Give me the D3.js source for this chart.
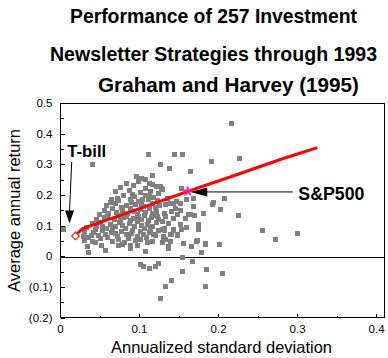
<!DOCTYPE html>
<html><head><meta charset="utf-8">
<script src="https://cdn.jsdelivr.net/npm/d3@7"></script>
<style>html,body{margin:0;padding:0;background:#fff;} svg{display:block;}</style>
</head><body><svg id="chart" width="388" height="358"></svg>
<script>
// ---------- data ----------
const titleLines = ["Performance of 257 Investment", "Newsletter Strategies through 1993", "Graham and Harvey (1995)"];
const xAxisTitle = "Annualized standard deviation";
const yAxisTitle = "Average annual return";
const xTickValues = [0, 0.1, 0.2, 0.3, 0.4];
const xTickLabels = ["0", "0.1", "0.2", "0.3", "0.4"];
const xMinorTicks = [0.05, 0.15, 0.25, 0.35];
const yTickValues = [0.5, 0.4, 0.3, 0.2, 0.1, 0, -0.1, -0.2];
const yTickLabels = ["0.5", "0.4", "0.3", "0.2", "0.1", "0", "(0.1)", "(0.2)"];
const yMinorTicks = [0.45, 0.35, 0.25, 0.15, 0.05, -0.05, -0.15];

// [annualized std dev, average annual return] for newsletter strategies
const newsletterPoints = [
 [0.004,0.088],[0.041,0.301],[0.111,0.332],[0.096,0.262],[0.103,0.256],[0.107,0.253],[0.117,0.265],[0.113,0.240],
 [0.126,0.300],[0.126,0.229],[0.217,0.435],[0.144,0.332],[0.155,0.332],[0.138,0.289],[0.191,0.312],[0.227,0.319],
 [0.164,0.279],[0.128,0.222],[0.153,0.221],[0.207,0.189],[0.194,0.178],[0.202,0.153],[0.225,0.135],[0.181,0.142],
 [0.192,0.169],[0.256,0.087],[0.300,0.076],[0.272,0.055],
 [0.131,0.086],[0.143,0.086],[0.153,0.088],[0.175,0.088],[0.130,0.061],[0.141,0.072],[0.148,0.072],[0.129,0.045],
 [0.137,0.028],[0.156,0.042],[0.166,0.034],[0.172,0.050],[0.183,0.042],[0.201,0.039],[0.179,0.013],
 [0.155,-0.004],[0.167,-0.017],[0.154,-0.047],[0.185,-0.043],[0.205,-0.056],[0.140,-0.076],[0.133,-0.098],[0.183,-0.097],[0.126,-0.135],
 [0.034,0.034],[0.035,0.014],[0.057,0.020],[0.074,0.037],[0.088,0.028],[0.097,0.037],[0.107,0.017],
 [0.101,-0.026],[0.105,-0.032],[0.113,-0.040],[0.120,-0.032],[0.124,-0.021],
 [0.029,0.066],[0.040,0.050],
 [0.129,0.218],[0.135,0.191],[0.143,0.175],[0.152,0.175],[0.160,0.186],[0.168,0.191],[0.133,0.169],[0.168,0.164],
 [0.131,0.142],[0.141,0.146],[0.148,0.139],[0.133,0.131],[0.143,0.126],[0.158,0.126],[0.162,0.139],[0.170,0.134],
 [0.129,0.115],[0.137,0.107],[0.152,0.104],[0.160,0.095],[0.174,0.104],[0.175,0.093],[0.129,0.088],[0.132,0.093],
 [0.143,0.088],[0.139,0.074],[0.148,0.069],[0.130,0.066],[0.133,0.055],[0.139,0.050],[0.173,0.052],[0.184,0.041],
 [0.137,0.034],[0.164,0.137],[0.174,0.099],[0.139,0.175],[0.147,0.179],[0.152,0.150],[0.146,0.158],
 [0.084,0.238],[0.099,0.244],[0.117,0.236],
 [0.076,0.226],[0.093,0.231],[0.108,0.223],[0.121,0.228],
 [0.069,0.212],[0.087,0.215],[0.101,0.208],[0.114,0.213],[0.124,0.206],
 [0.080,0.199],[0.094,0.196],[0.107,0.201],[0.118,0.194],
 [0.064,0.187],[0.074,0.182],[0.088,0.186],[0.099,0.179],[0.111,0.188],[0.123,0.183],
 [0.058,0.168],[0.070,0.173],[0.083,0.166],[0.095,0.171],[0.105,0.164],[0.116,0.175],[0.125,0.168],
 [0.056,0.152],[0.066,0.158],[0.078,0.150],[0.089,0.156],[0.101,0.153],[0.112,0.158],[0.121,0.149],
 [0.049,0.137],[0.061,0.142],[0.073,0.136],[0.085,0.141],[0.097,0.138],[0.108,0.144],[0.119,0.135],
 [0.045,0.123],[0.056,0.127],[0.068,0.121],[0.080,0.128],[0.092,0.124],[0.103,0.121],[0.115,0.128],[0.124,0.120],
 [0.040,0.108],[0.051,0.113],[0.063,0.106],[0.075,0.112],[0.087,0.109],[0.098,0.114],[0.110,0.106],[0.121,0.111],
 [0.033,0.094],[0.046,0.098],[0.058,0.091],[0.070,0.097],[0.082,0.093],[0.094,0.099],[0.106,0.092],[0.117,0.097],
 [0.030,0.081],[0.042,0.078],[0.053,0.084],[0.065,0.079],[0.077,0.083],[0.090,0.077],[0.101,0.082],[0.113,0.079],[0.124,0.085],
 [0.036,0.064],[0.048,0.068],[0.060,0.062],[0.072,0.067],[0.086,0.061],[0.097,0.066],[0.109,0.063],[0.120,0.068],
 [0.031,0.052],[0.044,0.048],[0.066,0.051],[0.081,0.047],[0.095,0.053],[0.116,0.049],
 [0.052,0.037],[0.078,0.041],[0.089,0.035],
 [0.072,0.190],[0.091,0.203],[0.104,0.186],[0.113,0.197],
 [0.063,0.176],[0.077,0.160],[0.090,0.176],[0.102,0.170],[0.120,0.162],
 [0.071,0.145],[0.083,0.132],[0.094,0.146],[0.106,0.133],[0.117,0.142],
 [0.059,0.131],[0.076,0.118],[0.088,0.117],[0.099,0.130],[0.111,0.117],[0.123,0.132],
 [0.053,0.099],[0.066,0.088],[0.079,0.102],[0.091,0.087],[0.103,0.101],[0.114,0.088],
 [0.044,0.088],[0.057,0.072],[0.069,0.075],[0.083,0.072],[0.105,0.071],[0.118,0.074],
 [0.039,0.070],[0.050,0.058],[0.074,0.055],[0.101,0.057],[0.110,0.046]
];

// efficient frontier (red line)
const frontierSigma  = [0.019, 0.023, 0.028, 0.060, 0.100, 0.161, 0.220, 0.280, 0.325];
const frontierReturn = [0.068, 0.080, 0.092, 0.121, 0.157, 0.213, 0.265, 0.319, 0.356];

const tbill = { name: "T-bill", sigma: 0.019, ret: 0.068 };
const sp500 = { name: "S&P500", sigma: 0.161, ret: 0.213 };

// ---------- drawing ----------
const svg = d3.select("#chart");
const FONT = "'Liberation Sans', Arial, Helvetica, sans-serif";

const x = d3.scaleLinear().domain([0, 0.41]).range([60.5, 384.5]);
const y = d3.scaleLinear().domain([-0.2, 0.5]).range([318, 103.5]);

// titles
const titleX = [213.5, 213.5, 228.5], titleY = [23, 61, 91.5], titleW = [287, 327, 261];
svg.selectAll("text.title").data(titleLines).join("text")
  .attr("class", "title")
  .attr("x", (d, i) => titleX[i]).attr("y", (d, i) => titleY[i])
  .attr("text-anchor", "middle")
  .attr("font-family", FONT).attr("font-weight", "bold").attr("font-size", 19.5)
  .attr("textLength", (d, i) => titleW[i]).attr("lengthAdjust", "spacingAndGlyphs")
  .text(d => d);

// frame
svg.append("rect").attr("x", 60.5).attr("y", 103.5).attr("width", 324).attr("height", 214)
  .attr("fill", "none").attr("stroke", "#000").attr("stroke-width", 1).attr("shape-rendering", "crispEdges");

// zero line
const y0 = Math.round(y(0)) + 0.5;
svg.append("line").attr("x1", 60.5).attr("x2", 384.5).attr("y1", y0).attr("y2", y0)
  .attr("stroke", "#000").attr("shape-rendering", "crispEdges");

// y axis
const yAxis = svg.append("g").attr("transform", "translate(60.5,0)")
  .call(d3.axisLeft(y).tickValues(yTickValues).tickFormat((d, i) => yTickLabels[i]).tickSize(-4).tickPadding(8).offset(0));
yAxis.select(".domain").remove();
const yMinor = svg.append("g").attr("transform", "translate(60.5,0)")
  .call(d3.axisLeft(y).tickValues(yMinorTicks).tickFormat("").tickSize(-3).offset(0));
yMinor.select(".domain").remove();

// x axis
const xAxis = svg.append("g").attr("transform", "translate(0,317.5)")
  .call(d3.axisBottom(x).tickValues(xTickValues).tickFormat((d, i) => xTickLabels[i]).tickSize(-4).tickPadding(7).offset(0));
xAxis.select(".domain").remove();
const xMinor = svg.append("g").attr("transform", "translate(0,317.5)")
  .call(d3.axisBottom(x).tickValues(xMinorTicks).tickFormat("").tickSize(-2).offset(0));
xMinor.select(".domain").remove();

svg.selectAll(".tick line").attr("shape-rendering", "crispEdges").attr("stroke", "#000");
[yAxis, xAxis].forEach(g => g.attr("font-family", FONT).attr("font-size", 11.5)
  .selectAll("text").attr("fill", "#000"));

// axis titles
svg.append("text").attr("x", 221.5).attr("y", 353).attr("text-anchor", "middle")
  .attr("font-family", FONT).attr("font-size", 16.5).text(xAxisTitle);
svg.append("text").attr("transform", "translate(19.5,210.5) rotate(-90)").attr("text-anchor", "middle")
  .attr("font-family", FONT).attr("font-size", 16.5).text(yAxisTitle);

// scatter points
svg.append("g").selectAll("rect").data(newsletterPoints).join("rect")
  .attr("x", d => Math.round(x(d[0]) - 2.5)).attr("y", d => Math.round(y(d[1]) - 2.5))
  .attr("width", 5).attr("height", 5).attr("fill", "#808080").attr("shape-rendering", "crispEdges");

// frontier line
const frontier = frontierSigma.map((s, i) => [s, frontierReturn[i]]);
svg.append("path").datum(frontier)
  .attr("d", d3.line().x(d => x(d[0])).y(d => y(d[1])))
  .attr("fill", "none").attr("stroke", "#ff0000").attr("stroke-width", 3);

// T-bill diamond
svg.append("path")
  .attr("d", d3.symbol().type(d3.symbolSquare).size(30)())
  .attr("transform", `translate(${x(tbill.sigma)},${y(tbill.ret)}) rotate(45)`)
  .attr("fill", "#fff").attr("stroke", "#ff0000").attr("stroke-width", 1);

// S&P arrow
const spTipX = x(sp500.sigma) + 2.5, spY = y(sp500.ret) + 0.5;
svg.append("line").attr("x1", spTipX + 16).attr("x2", x(0.294)).attr("y1", spY).attr("y2", spY)
  .attr("stroke", "#000").attr("stroke-width", 1);
svg.append("path")
  .attr("d", `M${spTipX},${spY} L${spTipX + 17},${spY - 4.5} L${spTipX + 17},${spY + 4.5} Z`)
  .attr("fill", "#000");

// S&P star
svg.append("path")
  .attr("d", d3.symbol().type(d3.symbolStar).size(45)())
  .attr("transform", `translate(${x(sp500.sigma)},${y(sp500.ret)})`)
  .attr("fill", "#ff1c8e");

// T-bill arrow
const tbTipX = x(tbill.sigma) - 6, tbTipY = y(tbill.ret) - 12.5;
const tbStartX = tbTipX + 2.2, tbStartY = y(0.309);
svg.append("line").attr("x1", tbStartX).attr("y1", tbStartY).attr("x2", tbTipX).attr("y2", tbTipY - 12)
  .attr("stroke", "#000").attr("stroke-width", 1);
svg.append("path")
  .attr("d", `M${tbTipX},${tbTipY} L${tbTipX - 4.5},${tbTipY - 13} L${tbTipX + 4.5},${tbTipY - 13} Z`)
  .attr("fill", "#000");

// labels
svg.append("text").attr("x", x(0.0085)).attr("y", 157)
  .attr("font-family", FONT).attr("font-weight", "bold").attr("font-size", 17)
  .attr("textLength", 39).attr("lengthAdjust", "spacingAndGlyphs").text(tbill.name);
svg.append("text").attr("x", x(0.301)).attr("y", 199.5)
  .attr("font-family", FONT).attr("font-weight", "bold").attr("font-size", 18)
  .attr("textLength", 66).attr("lengthAdjust", "spacingAndGlyphs").text(sp500.name);
</script>
</body></html>
